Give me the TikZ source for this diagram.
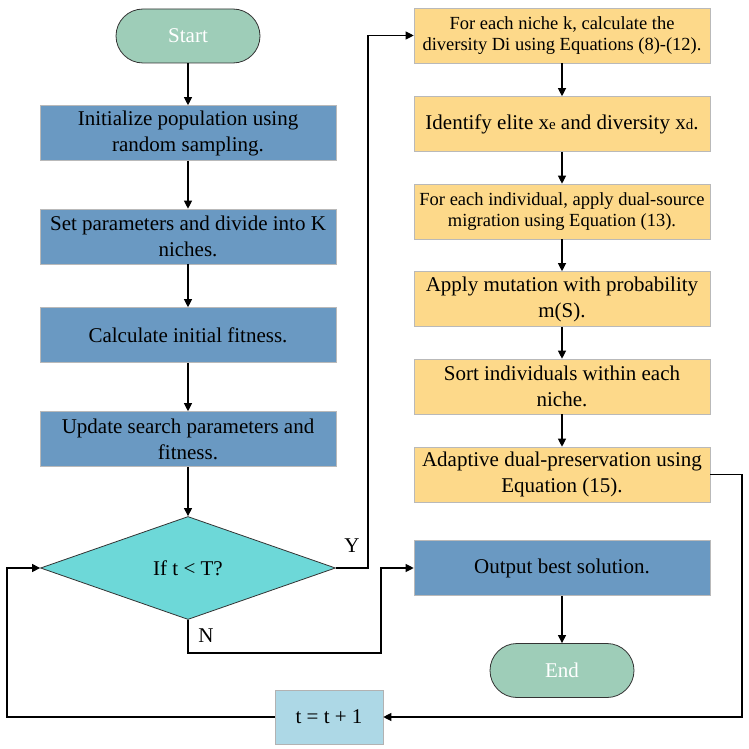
\documentclass[tikz,border=0pt]{standalone}
\usepackage{fontspec}
\setmainfont{Liberation Serif}
\usepackage{tikz}
\usetikzlibrary{arrows.meta,positioning,shapes.geometric}
\definecolor{FlowBlue}{HTML}{6A99C2}
\definecolor{FlowYellow}{HTML}{FDD98A}
\definecolor{FlowGreen}{HTML}{9ECDB8}
\definecolor{FlowCyan}{HTML}{6DD8D8}
\definecolor{FlowLight}{HTML}{ADD8E6}
\newcommand{\bigtxt}{\fontsize{21}{26}\selectfont}
\newcommand{\smalltxt}{\fontsize{18.5}{21}\selectfont}

\begin{document}
\begin{tikzpicture}[
    x=1pt,y=-1pt,
    bluebox/.style={draw=gray!55,fill=FlowBlue,line width=0.6pt,
      minimum width=296pt,minimum height=55pt,inner sep=0pt,align=center,font=\bigtxt},
    yellowbox/.style={draw=gray!55,fill=FlowYellow,line width=0.6pt,
      minimum width=296pt,minimum height=55pt,inner sep=0pt,align=center,font=\bigtxt},
    terminal/.style={draw=black!80,fill=FlowGreen,rounded corners=27pt,line width=0.8pt,
      minimum width=144pt,minimum height=54pt,text=white,font=\bigtxt},
    decision/.style={diamond,draw=black!80,fill=FlowCyan,line width=0.8pt,
      minimum width=295pt,minimum height=103pt,inner sep=0pt,font=\bigtxt},
    arr/.style={-{Triangle[length=8pt,width=8pt]},line width=1.1pt,draw=black},
    lbl/.style={font=\bigtxt,inner sep=0pt}
  ]
    \useasboundingbox (0,0) rectangle (748,749);
    % left column
    \node[terminal] (start) at (188,36) {Start};
    \node[bluebox] (init) at (188,133) {Initialize population using\\random sampling.};
    \node[bluebox] (setup) at (188,236.5) {Set parameters and divide into K\\niches.};
    \node[bluebox] (calc) at (188,335) {Calculate initial fitness.};
    \node[bluebox] (update) at (188,439) {Update search parameters and\\fitness.};
    \node[decision] (cond) at (188,568) {If t < T?};
    \node[draw=gray!60,fill=FlowLight,line width=0.6pt,minimum width=108pt,minimum height=54pt,
      font=\bigtxt] (incr) at (329,717) {t = t + 1};
    % right column
    \node[yellowbox,font=\smalltxt] (div) at (562,35.5) {For each niche k, calculate the\\diversity Di using Equations (8)-(12).};
    \node[yellowbox] (elite) at (562,124) {Identify elite x{\fontsize{15}{15}\selectfont e} and diversity x{\fontsize{15}{15}\selectfont d}.};
    \node[yellowbox,font=\smalltxt] (migr) at (562,211.5) {For each individual, apply dual-source\\migration using Equation (13).};
    \node[yellowbox] (mut) at (562,299) {Apply mutation with probability\\m(S).};
    \node[yellowbox] (sort) at (562,386.5) {Sort individuals within each\\niche.};
    \node[yellowbox] (adapt) at (562,474.5) {Adaptive dual-preservation using\\Equation (15).};
    \node[bluebox] (outp) at (562,568) {Output best solution.};
    \node[terminal] (finish) at (562,670.5) {End};
    % turning points
    \coordinate (yturn) at (368,568);
    \coordinate (nturn) at (381,653);
    \coordinate (loopr) at (742,474.5);
    \coordinate (loopl) at (7,717);
    % arrows
    \draw[arr] (start) -- (init);
    \draw[arr] (init) -- (setup);
    \draw[arr] (setup) -- (calc);
    \draw[arr] (calc) -- (update);
    \draw[arr] (update) -- (cond);
    \draw[arr] (cond.east) -- (yturn) |- (div.west);
    \draw[arr] (div) -- (elite);
    \draw[arr] (elite) -- (migr);
    \draw[arr] (migr) -- (mut);
    \draw[arr] (mut) -- (sort);
    \draw[arr] (sort) -- (adapt);
    \draw[arr] (cond.south) |- (nturn) |- (outp.west);
    \draw[arr] (outp) -- (finish);
    \draw[arr] (adapt.east) -- (loopr) |- (incr.east);
    \draw[arr] (incr.west) -- (loopl) |- (cond.west);
    \node[lbl] (ylbl) at (352,546) {Y};
    \node[lbl] (nlbl) at (206,636) {N};
\end{tikzpicture}
\end{document}
